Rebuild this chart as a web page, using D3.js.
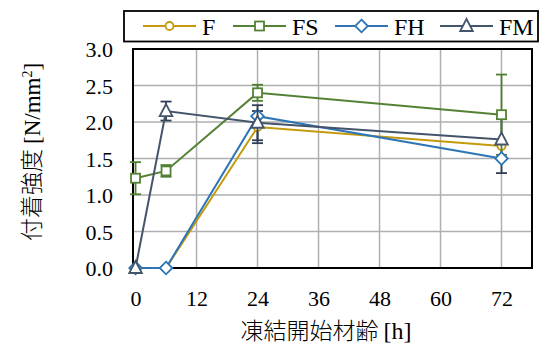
<!DOCTYPE html>
<html><head><meta charset="utf-8">
<script src="https://cdn.jsdelivr.net/npm/d3@7"></script>
<style>html,body{margin:0;padding:0;background:#fff;}</style>
</head><body>
<svg id="c" width="544" height="347"></svg>
<script>
const hours = [0, 6, 24, 72];
const seriesNames = ["F", "FS", "FH", "FM"];
const valF  = [0.0, 0.0, 1.93, 1.67];
const valFS = [1.23, 1.33, 2.40, 2.10];
const valFH = [0.0, 0.0, 2.08, 1.50];
const valFM = [0.0, 2.15, 1.99, 1.76];
const errF  = [0, 0, 0.22, 0.37];
const errFS = [0.22, 0.08, 0.11, 0.55];
const errFH = [0, 0, 0, 0];
const errFM = [0, 0.13, 0.24, 0];
const xTicks = [0, 12, 24, 36, 48, 60, 72];
const yTicks = [0, 0.5, 1.0, 1.5, 2.0, 2.5, 3.0];

const colors = {F:"#C49A0C", FS:"#548235", FH:"#2E75B6", FM:"#44546A"};
const errColors = {F:"#2F3E55", FS:"#4E7F2E", FH:"#1F4E79", FM:"#2F3E55"};
const shapes = {F:"circle", FS:"square", FH:"diamond", FM:"triangle"};
const data = [
  {name:"F", v:valF, e:errF},
  {name:"FS", v:valFS, e:errFS},
  {name:"FH", v:valFH, e:errFH},
  {name:"FM", v:valFM, e:errFM}
];

const svg = d3.select("#c");
const L = 133, R = 532, T = 49, B = 268;
const x = d3.scaleLinear().domain([-0.5, 78]).range([L, R]);
const y = d3.scaleLinear().domain([0, 3]).range([B, T]);
const serif = "Liberation Serif";
const cjk = "Noto Sans CJK JP";

// gridlines
svg.append("g").selectAll("line").data(xTicks.filter(d=>d>0)).join("line")
  .attr("x1", d=>x(d)).attr("x2", d=>x(d)).attr("y1", T).attr("y2", B)
  .attr("stroke", "#AFAFAF").attr("stroke-width", 1.5);
svg.append("g").selectAll("line").data(yTicks.filter(d=>d>0 && d<3)).join("line")
  .attr("x1", L).attr("x2", R).attr("y1", d=>y(d)).attr("y2", d=>y(d))
  .attr("stroke", "#AFAFAF").attr("stroke-width", 1.5);
// border
svg.append("rect").attr("x", L).attr("y", T).attr("width", R-L).attr("height", B-T)
  .attr("fill", "none").attr("stroke", "#000").attr("stroke-width", 2);

// axes (labels only)
const xAxis = d3.axisBottom(x).tickValues(xTicks).tickSize(0).tickPadding(0);
const gx = svg.append("g").attr("transform", `translate(0,${B})`).call(xAxis)
  .attr("font-family", serif).attr("font-size", 22);
gx.select(".domain").remove();
gx.selectAll("text").attr("y", 38).attr("dy", 0).attr("fill", "#000")
  .attr("font-family", serif).attr("font-size", 22);
const yAxis = d3.axisLeft(y).tickValues(yTicks).tickFormat(d3.format(".1f")).tickSize(0).tickPadding(0);
const gy = svg.append("g").attr("transform", `translate(${L-20},0)`).call(yAxis)
  .attr("font-family", serif).attr("font-size", 22);
gy.select(".domain").remove();
gy.selectAll("text").attr("dy", "0.35em").attr("fill", "#000")
  .attr("font-family", serif).attr("font-size", 22);

// axis titles
const xt = svg.append("text").attr("x", 326).attr("y", 339).attr("text-anchor", "middle")
  .attr("font-size", 23).attr("font-family", cjk).attr("font-weight", 300);
xt.append("tspan").text("凍結開始材齢 ");
xt.append("tspan").attr("font-family", serif).attr("font-weight", 400).attr("font-size", 24).text("[h]");

const yt = svg.append("text").attr("transform", "translate(40,152) rotate(-90)")
  .attr("text-anchor", "middle")
  .attr("font-size", 23).attr("font-family", cjk).attr("font-weight", 300);
yt.append("tspan").text("付着強度 ");
yt.append("tspan").attr("font-family", serif).attr("font-weight", 400).text("[N/mm");
yt.append("tspan").attr("font-family", serif).attr("font-size", 14).attr("font-weight", 400)
  .attr("dy", -8).text("2");
yt.append("tspan").attr("font-family", serif).attr("font-weight", 400).attr("dy", 8).text("]");

function drawMarker(g, shape, cx, cy, color) {
  if (shape === "circle") {
    g.append("circle").attr("cx", cx).attr("cy", cy).attr("r", 4)
      .attr("fill", "#fff").attr("stroke", color).attr("stroke-width", 1.8);
  } else if (shape === "square") {
    g.append("rect").attr("x", cx-4.5).attr("y", cy-4.5).attr("width", 9).attr("height", 9)
      .attr("fill", "#fff").attr("stroke", color).attr("stroke-width", 1.8);
  } else if (shape === "diamond") {
    g.append("path").attr("d", `M${cx},${cy-6.3}L${cx+6.3},${cy}L${cx},${cy+6.3}L${cx-6.3},${cy}Z`)
      .attr("fill", "#fff").attr("stroke", color).attr("stroke-width", 1.8);
  } else {
    g.append("path").attr("d", `M${cx},${cy-7}L${cx+6.3},${cy+5}L${cx-6.3},${cy+5}Z`)
      .attr("fill", "#fff").attr("stroke", color).attr("stroke-width", 1.8);
  }
}

const line = d3.line().x((d,i)=>x(hours[i])).y(d=>y(d));
data.forEach(s => {
  const g = svg.append("g");
  s.v.forEach((v,i) => {
    const e = s.e[i];
    if (e > 0) {
      const cx = x(hours[i]);
      g.append("line").attr("x1", cx).attr("x2", cx).attr("y1", y(v+e)).attr("y2", y(v-e))
        .attr("stroke", errColors[s.name]).attr("stroke-width", 1.8);
      [v+e, v-e].forEach(w => g.append("line").attr("x1", cx-5.5).attr("x2", cx+5.5)
        .attr("y1", y(w)).attr("y2", y(w)).attr("stroke", errColors[s.name]).attr("stroke-width", 1.8));
    }
  });
  g.append("path").attr("d", line(s.v)).attr("fill", "none")
    .attr("stroke", colors[s.name]).attr("stroke-width", 2);
  s.v.forEach((v,i) => drawMarker(g, shapes[s.name], x(hours[i]), y(v), colors[s.name]));
});

// legend
svg.append("rect").attr("x", 124).attr("y", 11).attr("width", 414).attr("height", 30.5)
  .attr("fill", "#fff").attr("stroke", "#000").attr("stroke-width", 1.8);
const legX = [143, 233, 335, 440];
seriesNames.forEach((n,i) => {
  const lx = legX[i], ly = 26;
  svg.append("line").attr("x1", lx).attr("x2", lx+53).attr("y1", ly).attr("y2", ly)
    .attr("stroke", colors[n]).attr("stroke-width", 2);
  drawMarker(svg, shapes[n], lx+26.5, ly, colors[n]);
  svg.append("text").attr("x", lx+59).attr("y", ly+8.5)
    .attr("font-family", serif).attr("font-size", 24).attr("fill", "#000").text(n);
});
</script>
</body></html>
